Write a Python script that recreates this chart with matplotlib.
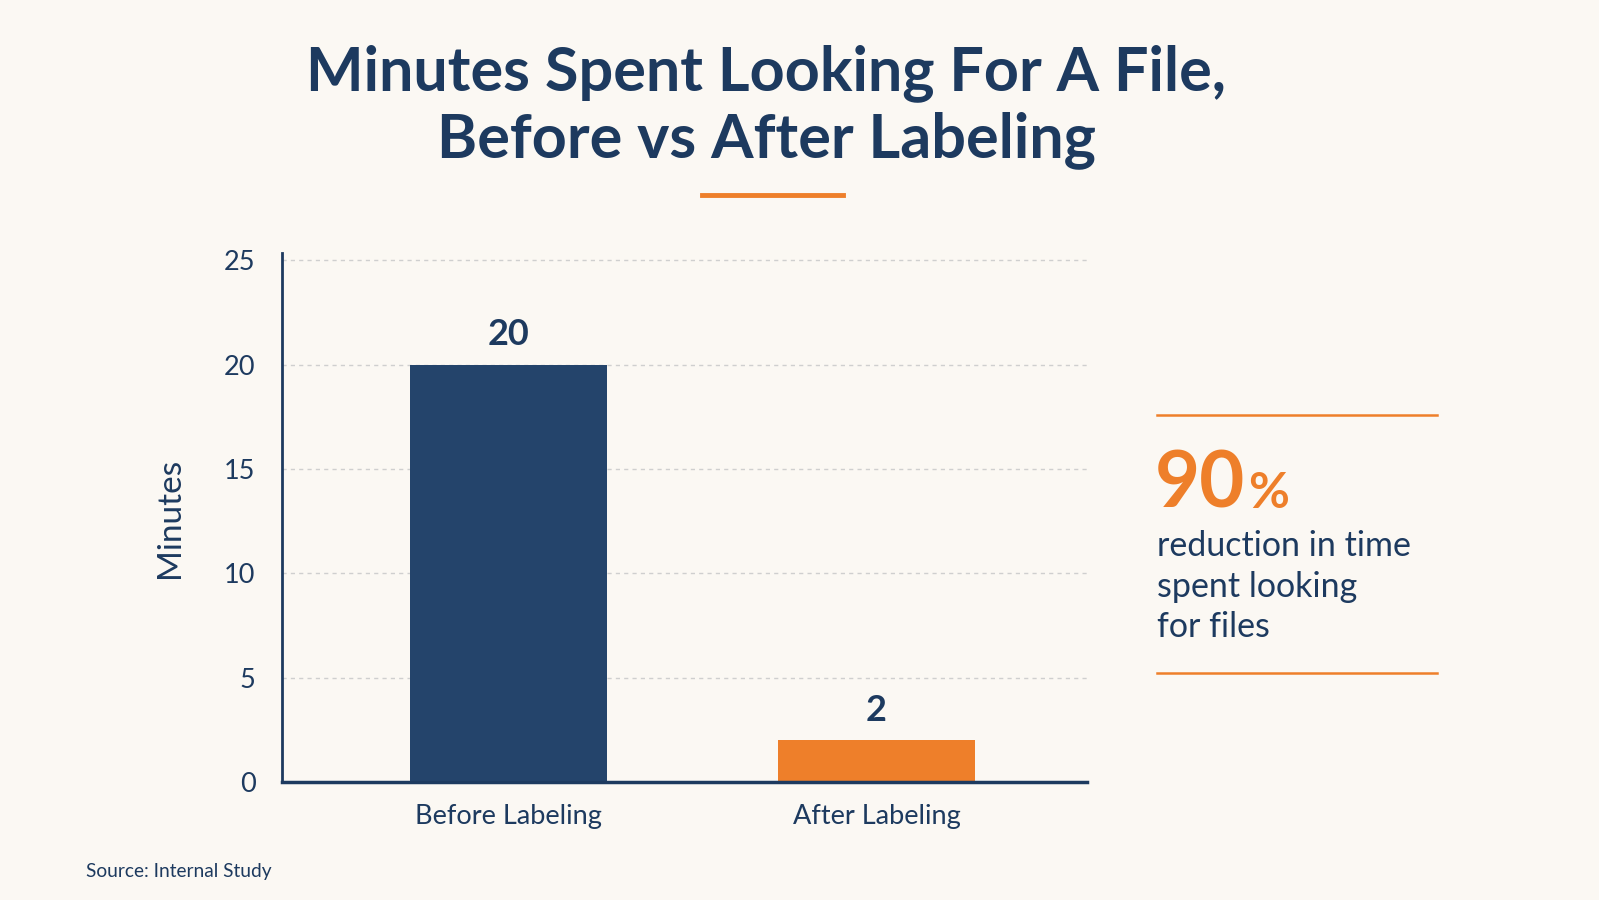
import matplotlib.pyplot as plt

categories = ['Before Labeling', 'After Labeling']
minutes = [20, 2]
y_ticks = [0, 5, 10, 15, 20, 25]
bar_colors = ['#24446B', '#EE7F2A']

title = 'Minutes Spent Looking For A File,\nBefore vs After Labeling'
big_number = '90'
callout = 'reduction in time\nspent looking\nfor files'
source = 'Source: Internal Study'

navy = '#1D3A5F'
orange = '#EE7F2A'
bg = '#FBF8F3'

plt.rcParams['font.family'] = ['Lato', 'DejaVu Sans']

W, H = 1599, 900
fig = plt.figure(figsize=(W / 100, H / 100), dpi=100, facecolor=bg)

def fx(px):
    return px / W

def fy(py):
    return 1 - py / H

# main bar chart
ax = fig.add_axes([fx(282), fy(782), fx(1087) - fx(282), fy(253) - fy(782)])
ax.set_facecolor(bg)
x = range(len(categories))
ax.bar(x, minutes, width=0.535, color=bar_colors, zorder=3)
for xi, v in zip(x, minutes):
    ax.text(xi, v + 0.65, str(v), ha='center', va='bottom', fontsize=26,
            fontweight='bold', color=navy)

ax.set_xlim(-0.615, 1.572)
ax.set_ylim(0, 25.35)
ax.set_yticks(y_ticks)
ax.set_xticks(list(x))
ax.set_xticklabels(categories)
ax.tick_params(axis='y', length=0, pad=19, labelsize=19.5, labelcolor=navy)
ax.tick_params(axis='x', length=0, pad=16, labelsize=19.5, labelcolor=navy)
ax.yaxis.grid(True, linestyle=(0, (3, 3)), color='#CFCFCF', linewidth=1, zorder=0)
for s in ['top', 'right']:
    ax.spines[s].set_visible(False)
ax.spines['left'].set_color(navy)
ax.spines['left'].set_linewidth(2)
ax.spines['bottom'].set_color(navy)
ax.spines['bottom'].set_linewidth(2.5)
ax.spines['bottom'].set_zorder(4)
ax.set_ylabel('Minutes', fontsize=24, color=navy, labelpad=28)

# title and accent rule
fig.text(fx(766), fy(107), title, ha='center', va='center', fontsize=44,
         fontweight='bold', color=navy, linespacing=1.2)
fig.add_artist(plt.Line2D([fx(702), fx(843)], [fy(195), fy(195)], color=orange,
                          linewidth=3.5))

# callout on the right
fig.add_artist(plt.Line2D([fx(1157), fx(1437)], [fy(415), fy(415)], color=orange,
                          linewidth=1.8))
fig.add_artist(plt.Line2D([fx(1157), fx(1437)], [fy(673), fy(673)], color=orange,
                          linewidth=1.8))
t90 = fig.text(fx(1155), fy(508), big_number, ha='left', va='baseline', fontsize=56,
               fontweight='bold', color=orange)
fig.canvas.draw()
bb = t90.get_window_extent()
fig.text(bb.x1 / W + 0.002, fy(508), '%', ha='left', va='baseline', fontsize=36,
         fontweight='bold', color=orange)
fig.text(fx(1157), fy(530), callout, ha='left', va='top', fontsize=24.5,
         color=navy, linespacing=1.33)

fig.text(fx(86), fy(872), source, ha='left', va='center', fontsize=13.8, color=navy)

fig.savefig('out.png', dpi=100, facecolor=bg)
